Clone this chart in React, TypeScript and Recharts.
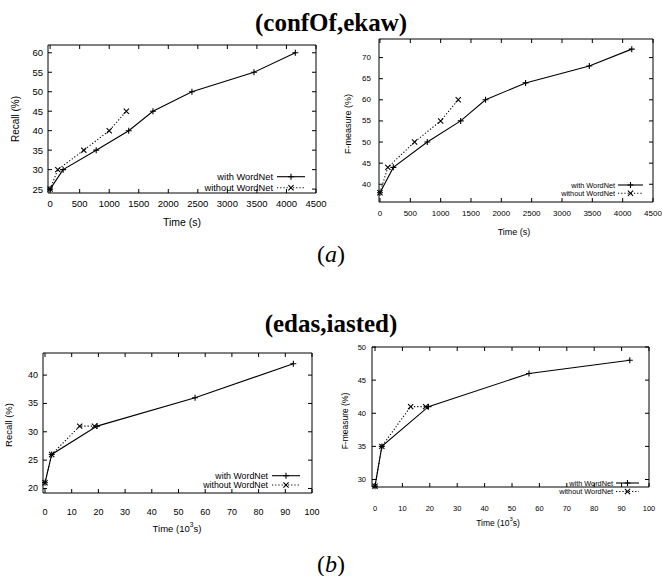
import React from 'react';
import { LineChart, Line, XAxis, YAxis } from 'recharts';

// ---- (confOf, ekaw) data : time in seconds ----
const confTimeWith = [0, 220, 780, 1330, 1740, 2400, 3450, 4150];
const confRecallWith = [25, 30, 35, 40, 45, 50, 55, 60];
const confFWith = [38, 44, 50, 55, 60, 64, 68, 72];
const confTimeWithout = [0, 130, 570, 1000, 1290];
const confRecallWithout = [25, 30, 35, 40, 45];
const confFWithout = [38, 44, 50, 55, 60];

// ---- (edas, iasted) data : time in 10^3 seconds ----
const edasTimeWith = [0, 2.5, 19.5, 56.2, 93];
const edasRecallWith = [21, 26, 31, 36, 42];
const edasFWith = [29, 35, 41, 46, 48];
const edasTimeWithout = [0, 2.5, 13, 18.5];
const edasRecallWithout = [21, 26, 31, 31];
const edasFWithout = [29, 35, 41, 41];

// ---- ticks ----
const confTimeTicks = [0, 500, 1000, 1500, 2000, 2500, 3000, 3500, 4000, 4500];
const confRecallTicks = [25, 30, 35, 40, 45, 50, 55, 60];
const confFTicks = [40, 45, 50, 55, 60, 65, 70];
const edasTimeTicks = [0, 10, 20, 30, 40, 50, 60, 70, 80, 90, 100];
const edasRecallTicks = [20, 25, 30, 35, 40];
const edasFTicks = [30, 35, 40, 45, 50];

const seriesNames = ['with WordNet', 'without WordNet'];

const SANS = '"Liberation Sans", Arial, Helvetica, sans-serif';
const SERIF = '"Liberation Serif", "Times New Roman", serif';

type Pt = { t: number; v: number };
const zip = (ts: number[], vs: number[]): Pt[] => ts.map((t, i) => ({ t, v: vs[i] }));

const plusPath = (cx: number, cy: number, s: number) =>
  `M${cx - s},${cy}H${cx + s}M${cx},${cy - s}V${cy + s}`;
const crossPath = (cx: number, cy: number, s: number) =>
  `M${cx - s},${cy - s}L${cx + s},${cy + s}M${cx - s},${cy + s}L${cx + s},${cy - s}`;

const PlusDot = (props: any) => {
  const { cx, cy, index } = props;
  if (cx == null || cy == null) return <g key={`pe${index}`} />;
  return <path key={`p${index}`} d={plusPath(cx, cy, 3)} stroke="#000" strokeWidth={1.1} fill="none" />;
};
const CrossDot = (props: any) => {
  const { cx, cy, index } = props;
  if (cx == null || cy == null) return <g key={`ce${index}`} />;
  return <path key={`c${index}`} d={crossPath(cx, cy, 2.6)} stroke="#000" strokeWidth={1.1} fill="none" />;
};

interface PanelProps {
  left: number;
  top: number;
  width: number;
  height: number;
  frame: { top: number; right: number; bottom: number; left: number };
  xDomain: [number, number];
  yDomain: [number, number];
  xTicks: number[];
  yTicks: number[];
  tickFont: number;
  xGap: number;
  yGap: number;
  withData: Pt[];
  withoutData: Pt[];
}

function Panel(p: PanelProps) {
  const tickLen = 4;
  const xBottom = (tp: any) => {
    const { x, y, payload } = tp;
    return (
      <g>
        <line x1={x} y1={y} x2={x} y2={y - tickLen} stroke="#000" strokeWidth={1} />
        <text x={x} y={y + p.xGap} textAnchor="middle" dominantBaseline="central" fontSize={p.tickFont} fontFamily={SANS} fill="#000">
          {payload.value}
        </text>
      </g>
    );
  };
  const xTop = (tp: any) => {
    const { x, y } = tp;
    return <line x1={x} y1={y} x2={x} y2={y + tickLen} stroke="#000" strokeWidth={1} />;
  };
  const yLeft = (tp: any) => {
    const { x, y, payload } = tp;
    return (
      <g>
        <line x1={x} y1={y} x2={x + tickLen} y2={y} stroke="#000" strokeWidth={1} />
        <text x={x - p.yGap} y={y} textAnchor="end" dominantBaseline="central" fontSize={p.tickFont} fontFamily={SANS} fill="#000">
          {payload.value}
        </text>
      </g>
    );
  };
  const yRight = (tp: any) => {
    const { x, y } = tp;
    return <line x1={x} y1={y} x2={x - tickLen} y2={y} stroke="#000" strokeWidth={1} />;
  };
  const axisLine = { stroke: '#000', strokeWidth: 1 };
  // axes take 1px each; margins leave the plot frame where requested
  const margin = {
    top: p.frame.top - 1,
    right: p.frame.right - 1,
    bottom: p.frame.bottom - 1,
    left: p.frame.left - 1,
  };
  return (
    <div style={{ position: 'absolute', left: p.left, top: p.top, width: p.width, height: p.height }}>
      <LineChart width={p.width} height={p.height} margin={margin}>
        <XAxis xAxisId="b" type="number" dataKey="t" domain={p.xDomain} ticks={p.xTicks} interval={0}
          tick={xBottom} tickLine={false} tickSize={0} tickMargin={0} height={1} axisLine={axisLine} />
        <XAxis xAxisId="t" orientation="top" type="number" dataKey="t" domain={p.xDomain} allowDataOverflow ticks={p.xTicks} interval={0}
          tick={xTop} tickLine={false} tickSize={0} tickMargin={0} height={1} axisLine={axisLine} />
        <YAxis yAxisId="l" type="number" dataKey="v" domain={p.yDomain} ticks={p.yTicks} interval={0}
          tick={yLeft} tickLine={false} tickSize={0} tickMargin={0} width={1} axisLine={axisLine} />
        <YAxis yAxisId="r" orientation="right" type="number" dataKey="v" domain={p.yDomain} allowDataOverflow ticks={p.yTicks} interval={0}
          tick={yRight} tickLine={false} tickSize={0} tickMargin={0} width={1} axisLine={axisLine} />
        <Line xAxisId="b" yAxisId="l" data={p.withoutData} dataKey="v" name={seriesNames[1]} stroke="#000" strokeWidth={1.1}
          strokeDasharray="1.2 2" dot={CrossDot} activeDot={false} isAnimationActive={false} />
        <Line xAxisId="b" yAxisId="l" data={p.withData} dataKey="v" name={seriesNames[0]} stroke="#000" strokeWidth={1.1}
          dot={PlusDot} activeDot={false} isAnimationActive={false} />
      </LineChart>
    </div>
  );
}

function LegendBlock({ right, y1, y2, x1, x2, font }: { right: number; y1: number; y2: number; x1: number; x2: number; font: number }) {
  const mid = (x1 + x2) / 2;
  return (
    <g>
      <text x={right} y={y1} textAnchor="end" dominantBaseline="central" fontSize={font} fontFamily={SANS}>{seriesNames[0]}</text>
      <line x1={x1} y1={y1} x2={x2} y2={y1} stroke="#000" strokeWidth={1.1} />
      <path d={plusPath(mid, y1, 3)} stroke="#000" strokeWidth={1.1} />
      <text x={right} y={y2} textAnchor="end" dominantBaseline="central" fontSize={font} fontFamily={SANS}>{seriesNames[1]}</text>
      <line x1={x1} y1={y2} x2={x2} y2={y2} stroke="#000" strokeWidth={1.1} strokeDasharray="1.2 2" />
      <path d={crossPath(mid, y2, 2.6)} stroke="#000" strokeWidth={1.1} />
    </g>
  );
}

function TimeLabel({ x, y, font, kilo }: { x: number; y: number; font: number; kilo: boolean }) {
  if (!kilo) {
    return <text x={x} y={y} textAnchor="middle" dominantBaseline="central" fontSize={font} fontFamily={SANS}>Time (s)</text>;
  }
  return (
    <text x={x} y={y} textAnchor="middle" dominantBaseline="central" fontSize={font} fontFamily={SANS}>
      Time (10<tspan dy={-4} fontSize={font * 0.7}>3</tspan><tspan dy={4}>s)</tspan>
    </text>
  );
}

function VLabel({ x, y, font, text }: { x: number; y: number; font: number; text: string }) {
  return (
    <text x={x} y={y} textAnchor="middle" dominantBaseline="central" fontSize={font} fontFamily={SANS}
      transform={`rotate(-90 ${x} ${y})`}>{text}</text>
  );
}

export default function App() {
  return (
    <div style={{ position: 'absolute', left: 0, top: 0, width: 662, height: 576, background: '#fff', overflow: 'hidden' }}>
      <Panel left={0} top={30} width={330} height={210}
        frame={{ top: 15, right: 14, bottom: 47, left: 48 }}
        xDomain={[-36, 4500]} yDomain={[24, 62]} xTicks={confTimeTicks} yTicks={confRecallTicks}
        tickFont={9.5} xGap={10.7} yGap={5}
        withData={zip(confTimeWith, confRecallWith)} withoutData={zip(confTimeWithout, confRecallWithout)} />
      <Panel left={330} top={30} width={332} height={210}
        frame={{ top: 9, right: 9, bottom: 38, left: 49 }}
        xDomain={[-16, 4500]} yDomain={[35.8, 74.4]} xTicks={confTimeTicks} yTicks={confFTicks}
        tickFont={8} xGap={11} yGap={8}
        withData={zip(confTimeWith, confFWith)} withoutData={zip(confTimeWithout, confFWithout)} />
      <Panel left={0} top={330} width={330} height={200}
        frame={{ top: 23, right: 18, bottom: 37, left: 43 }}
        xDomain={[-0.75, 100]} yDomain={[19.2, 43.9]} xTicks={edasTimeTicks} yTicks={edasRecallTicks}
        tickFont={9} xGap={19} yGap={5}
        withData={zip(edasTimeWith, edasRecallWith)} withoutData={zip(edasTimeWithout, edasRecallWithout)} />
      <Panel left={330} top={330} width={332} height={200}
        frame={{ top: 17, right: 13, bottom: 43, left: 42 }}
        xDomain={[-1.1, 100]} yDomain={[28.87, 50]} xTicks={edasTimeTicks} yTicks={edasFTicks}
        tickFont={7.5} xGap={21} yGap={6}
        withData={zip(edasTimeWith, edasFWith)} withoutData={zip(edasTimeWithout, edasFWithout)} />

      <svg width={662} height={576} style={{ position: 'absolute', left: 0, top: 0, pointerEvents: 'none' }}>
        <text x={331} y={22} textAnchor="middle" dominantBaseline="central" fontSize={25} fontWeight="bold" fontFamily={SERIF}>(confOf,ekaw)</text>
        <text x={331} y={323} textAnchor="middle" dominantBaseline="central" fontSize={25} fontWeight="bold" fontFamily={SERIF}>(edas,iasted)</text>
        <text x={331} y={254} textAnchor="middle" dominantBaseline="central" fontSize={24} fontFamily={SERIF}>(<tspan fontStyle="italic">a</tspan>)</text>
        <text x={331} y={564} textAnchor="middle" dominantBaseline="central" fontSize={24} fontFamily={SERIF}>(<tspan fontStyle="italic">b</tspan>)</text>

        <TimeLabel x={182} y={222} font={10.5} kilo={false} />
        <VLabel x={15} y={119} font={10} text="Recall (%)" />
        <TimeLabel x={514} y={231.5} font={9} kilo={false} />
        <VLabel x={348} y={124} font={9} text="F-measure (%)" />
        <TimeLabel x={177} y={528} font={9.5} kilo={true} />
        <VLabel x={8.5} y={425} font={9.5} text="Recall (%)" />
        <TimeLabel x={498} y={522.5} font={8.5} kilo={true} />
        <VLabel x={345} y={421} font={8.5} text="F-measure (%)" />

        <LegendBlock right={273} y1={176.7} y2={187.7} x1={277} x2={305} font={9.3} />
        <LegendBlock right={615} y1={185} y2={193.3} x1={618} x2={643} font={7.3} />
        <LegendBlock right={268} y1={475.7} y2={485} x1={272} x2={300} font={8.8} />
        <LegendBlock right={613} y1={483} y2={491.5} x1={616} x2={639} font={7.3} />
      </svg>
    </div>
  );
}
